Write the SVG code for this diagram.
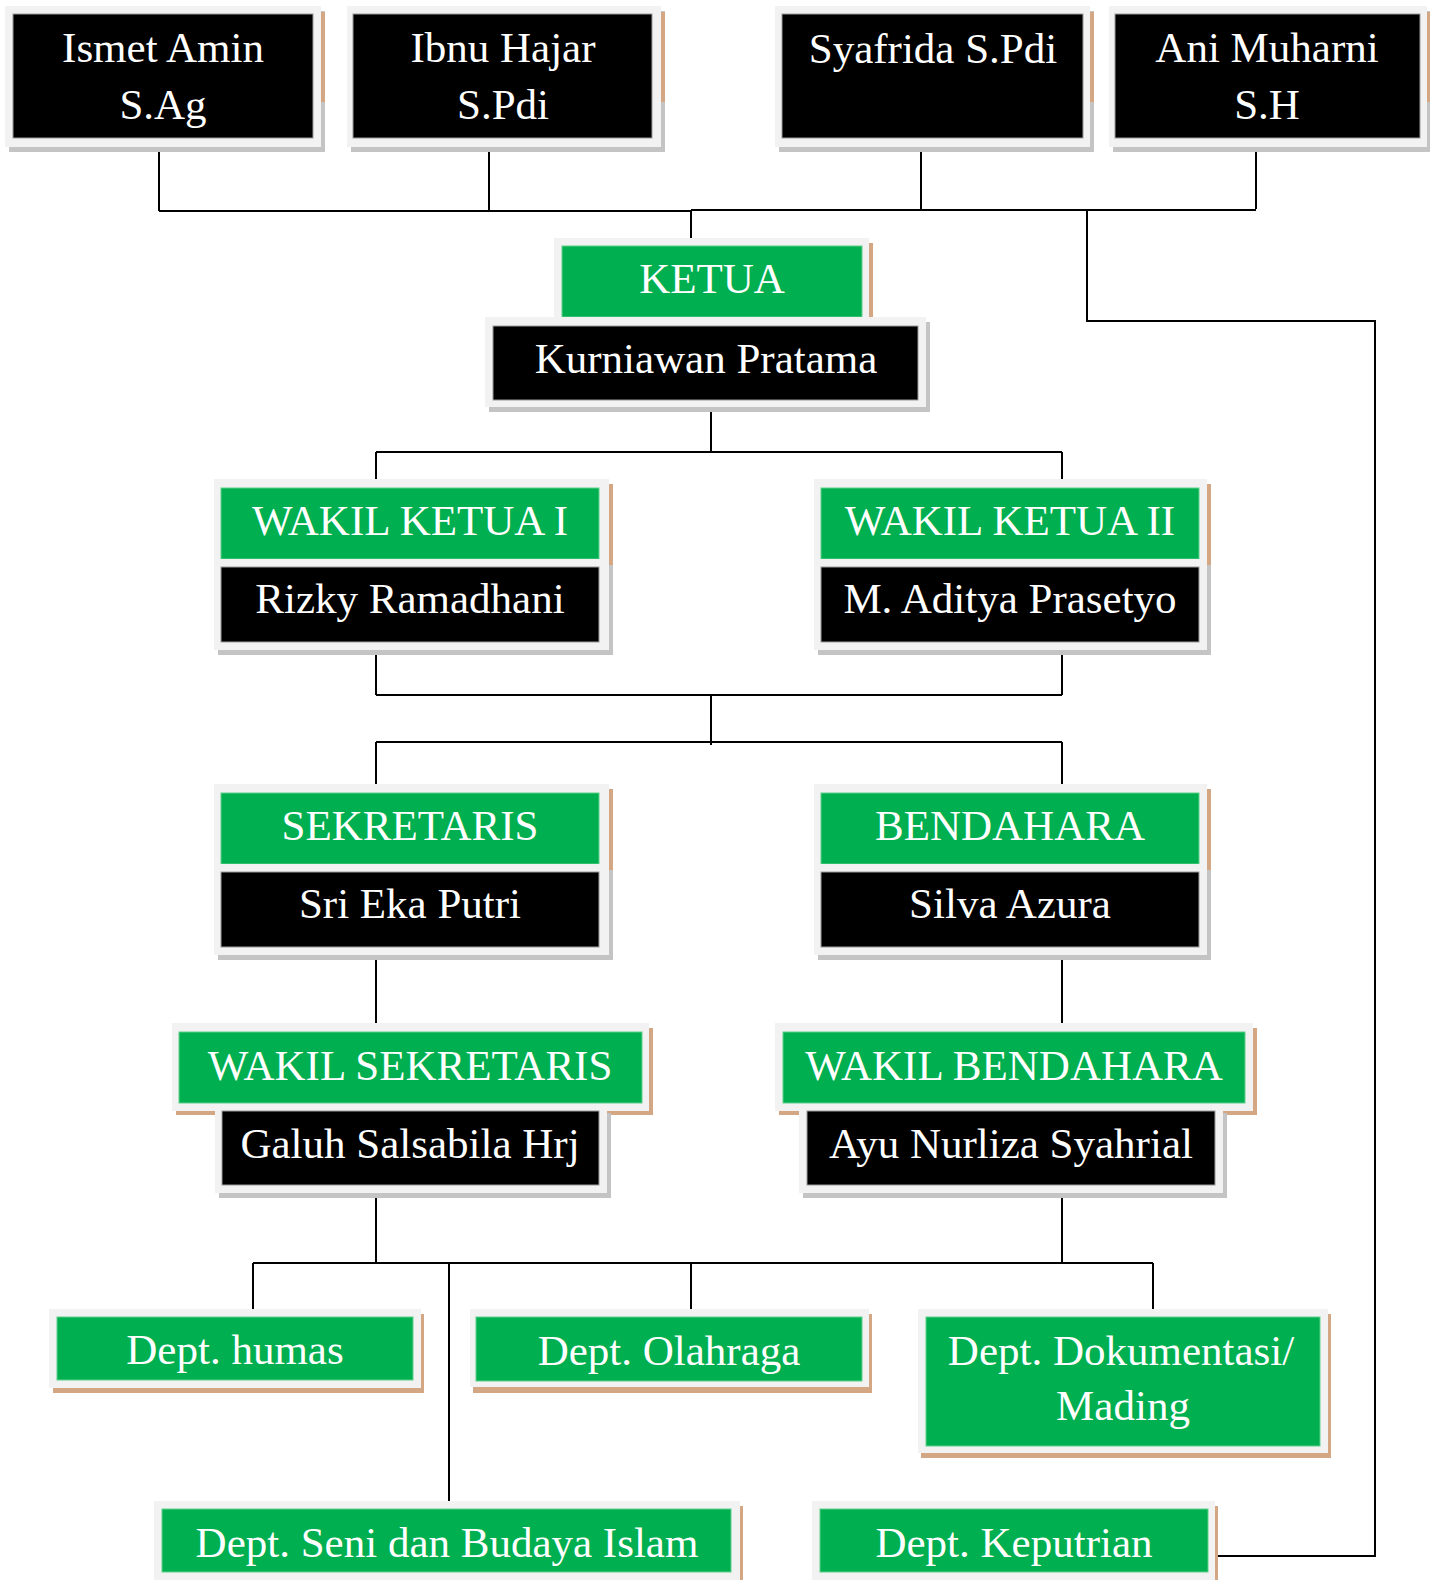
<svg xmlns="http://www.w3.org/2000/svg" width="1431" height="1580" viewBox="0 0 1431 1580">
<style>
.lt{fill:#f2f2f2}
.gs{fill:#c4c4c4}
.ts{fill:#d4a784}
.bk{fill:#000;stroke:#9a9a9a;stroke-width:1}
.gr{fill:#00af50;stroke:#5fcf8a;stroke-width:1}
.t{font-family:"Liberation Serif","Times New Roman",serif;font-size:43px;fill:#fff;text-anchor:middle}
.c{stroke:#000;stroke-width:2;fill:none}
</style>
<rect width="1431" height="1580" fill="#fff"/>
<g id="connectors">
<path class="c" d="M159,142V211M489,142V211M921,142V209M1256,142V209M159,211H691M691,210H1256M691,210V238"/>
<path class="c" d="M1087,210V321H1375V1556H1215"/>
<path class="c" d="M711,407V452M376,452H1062M376,452V479M1062,452V479"/>
<path class="c" d="M376,642V695M1062,642V695M376,695H1062M711,695V745M376,742H1062M376,742V784M1062,742V784"/>
<path class="c" d="M376,947V1023M1062,947V1023"/>
<path class="c" d="M376,1185V1263M1062,1185V1263M253,1263H1153M253,1263V1309M691,1263V1309M1153,1263V1309M449,1263V1501"/>
</g>
<g id="n1">
<rect class="gs" x="9" y="11" width="316" height="141"/>
<rect class="ts" x="321" y="12" width="4" height="90"/>
<rect class="lt" x="5" y="6" width="316" height="141"/>
<rect class="bk" x="13" y="14" width="300" height="124"/>
<text class="t" x="163" y="62">Ismet Amin</text>
<text class="t" x="163" y="119">S.Ag</text>
</g>
<g id="n2">
<rect class="gs" x="351" y="11" width="314" height="141"/>
<rect class="ts" x="661" y="12" width="4" height="90"/>
<rect class="lt" x="347" y="6" width="314" height="141"/>
<rect class="bk" x="353" y="14" width="299" height="124"/>
<text class="t" x="503" y="62">Ibnu Hajar</text>
<text class="t" x="503" y="119">S.Pdi</text>
</g>
<g id="n3">
<rect class="gs" x="779" y="11" width="315" height="141"/>
<rect class="ts" x="1090" y="12" width="4" height="90"/>
<rect class="lt" x="775" y="6" width="315" height="141"/>
<rect class="bk" x="782" y="14" width="301" height="124"/>
<text class="t" x="933" y="63">Syafrida S.Pdi</text>
</g>
<g id="n4">
<rect class="gs" x="1113" y="11" width="317" height="141"/>
<rect class="ts" x="1426" y="12" width="4" height="90"/>
<rect class="lt" x="1109" y="6" width="318" height="141"/>
<rect class="bk" x="1115" y="14" width="305" height="124"/>
<text class="t" x="1267" y="62">Ani Muharni</text>
<text class="t" x="1267" y="119">S.H</text>
</g>
<g id="n5">
<rect class="ts" x="558" y="243" width="315" height="80"/>
<rect class="lt" x="554" y="238" width="315" height="82"/>
<rect class="gr" x="562" y="246" width="300" height="71"/>
<rect class="gs" x="489" y="322" width="441" height="90"/>
<rect class="lt" x="485" y="317" width="441" height="90"/>
<rect class="bk" x="493" y="326" width="425" height="74"/>
<text class="t" x="712" y="293">KETUA</text>
<text class="t" x="706" y="373">Kurniawan Pratama</text>
</g>
<g id="n6">
<rect class="ts" x="218" y="484" width="395" height="86"/>
<rect class="lt" x="214" y="479" width="395" height="88"/>
<rect class="gr" x="221" y="488" width="378" height="71"/>
<rect class="gs" x="218" y="565" width="395" height="90"/>
<rect class="lt" x="214" y="559" width="395" height="91"/>
<rect class="bk" x="221" y="567" width="378" height="75"/>
<text class="t" x="410" y="535">WAKIL KETUA I</text>
<text class="t" x="410" y="613">Rizky Ramadhani</text>
</g>
<g id="n7">
<rect class="ts" x="818" y="484" width="393" height="86"/>
<rect class="lt" x="814" y="479" width="393" height="88"/>
<rect class="gr" x="821" y="488" width="378" height="71"/>
<rect class="gs" x="818" y="565" width="393" height="90"/>
<rect class="lt" x="814" y="559" width="393" height="91"/>
<rect class="bk" x="821" y="567" width="378" height="75"/>
<text class="t" x="1010" y="535">WAKIL KETUA II</text>
<text class="t" x="1010" y="613">M. Aditya Prasetyo</text>
</g>
<g id="n8">
<rect class="ts" x="218" y="789" width="395" height="86"/>
<rect class="lt" x="214" y="784" width="395" height="88"/>
<rect class="gr" x="221" y="793" width="378" height="71"/>
<rect class="gs" x="218" y="870" width="395" height="90"/>
<rect class="lt" x="214" y="864" width="395" height="91"/>
<rect class="bk" x="221" y="872" width="378" height="75"/>
<text class="t" x="410" y="840">SEKRETARIS</text>
<text class="t" x="410" y="918">Sri Eka Putri</text>
</g>
<g id="n9">
<rect class="ts" x="818" y="789" width="393" height="86"/>
<rect class="lt" x="814" y="784" width="393" height="88"/>
<rect class="gr" x="821" y="793" width="378" height="71"/>
<rect class="gs" x="818" y="870" width="393" height="90"/>
<rect class="lt" x="814" y="864" width="393" height="91"/>
<rect class="bk" x="821" y="872" width="378" height="75"/>
<text class="t" x="1010" y="840">BENDAHARA</text>
<text class="t" x="1010" y="918">Silva Azura</text>
</g>
<g id="n10">
<rect class="ts" x="176" y="1028" width="477" height="87"/>
<rect class="lt" x="172" y="1023" width="477" height="88"/>
<rect class="gr" x="179" y="1032" width="463" height="71"/>
<rect class="gs" x="219" y="1113" width="392" height="85"/>
<rect class="lt" x="215" y="1108" width="392" height="85"/>
<rect class="bk" x="222" y="1111" width="377" height="74"/>
<text class="t" x="410" y="1080">WAKIL SEKRETARIS</text>
<text class="t" x="410" y="1158">Galuh Salsabila Hrj</text>
</g>
<g id="n11">
<rect class="ts" x="779" y="1028" width="478" height="87"/>
<rect class="lt" x="775" y="1023" width="478" height="88"/>
<rect class="gr" x="783" y="1032" width="462" height="71"/>
<rect class="gs" x="803" y="1113" width="424" height="85"/>
<rect class="lt" x="799" y="1108" width="424" height="85"/>
<rect class="bk" x="807" y="1111" width="408" height="74"/>
<text class="t" x="1014" y="1080">WAKIL BENDAHARA</text>
<text class="t" x="1011" y="1158">Ayu Nurliza Syahrial</text>
</g>
<g id="n12">
<rect class="ts" x="53" y="1314" width="371" height="79"/>
<rect class="lt" x="49" y="1309" width="372" height="79"/>
<rect class="gr" x="57" y="1317" width="356" height="63"/>
<text class="t" x="235" y="1364">Dept. humas</text>
</g>
<g id="n13">
<rect class="ts" x="473" y="1314" width="399" height="79"/>
<rect class="lt" x="470" y="1309" width="399" height="78"/>
<rect class="gr" x="476" y="1317" width="386" height="64"/>
<text class="t" x="669" y="1365">Dept. Olahraga</text>
</g>
<g id="n14">
<rect class="ts" x="921" y="1314" width="410" height="144"/>
<rect class="lt" x="918" y="1309" width="410" height="144"/>
<rect class="gr" x="926" y="1317" width="394" height="129"/>
<text class="t" x="1121" y="1365">Dept. Dokumentasi/</text>
<text class="t" x="1123" y="1420">Mading</text>
</g>
<g id="n15">
<rect class="ts" x="158" y="1506" width="585" height="80"/>
<rect class="lt" x="154" y="1501" width="586" height="85"/>
<rect class="gr" x="162" y="1509" width="569" height="63"/>
<text class="t" x="447" y="1557">Dept. Seni dan Budaya Islam</text>
</g>
<g id="n16">
<rect class="ts" x="816" y="1506" width="402" height="80"/>
<rect class="lt" x="812" y="1501" width="403" height="85"/>
<rect class="gr" x="820" y="1509" width="388" height="63"/>
<text class="t" x="1014" y="1557">Dept. Keputrian</text>
</g>
</svg>
